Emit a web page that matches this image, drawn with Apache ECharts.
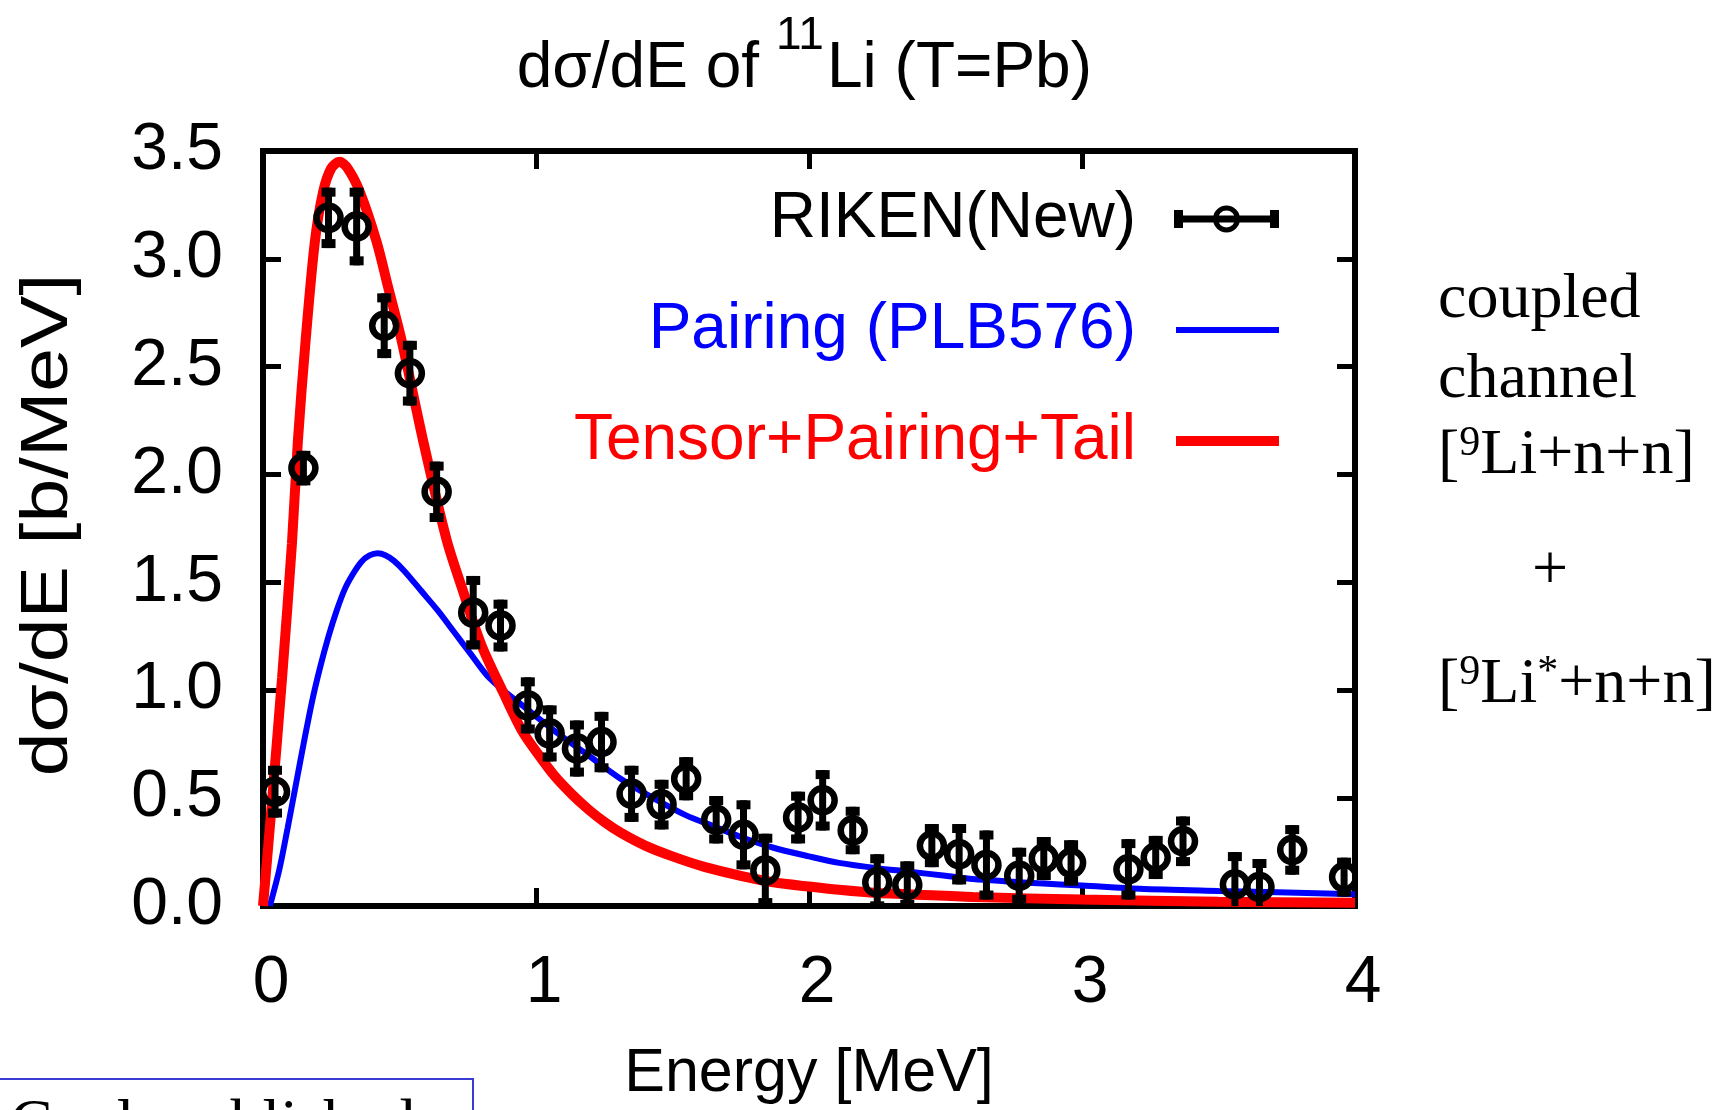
<!DOCTYPE html>
<html>
<head>
<meta charset="utf-8">
<title>dσ/dE of 11Li (T=Pb)</title>
<script src="https://cdn.jsdelivr.net/npm/echarts@6/dist/echarts.min.js"></script>
<style>
  html, body { margin: 0; padding: 0; background: #fff; }
  #main { width: 1717px; height: 1110px; }
</style>
</head>
<body>
<div id="main"></div>
<script>
// RIKEN(New) data: energy [MeV], dσ/dE [b/MeV], error
var energy = [0.044, 0.148, 0.24, 0.343, 0.444, 0.538, 0.636, 0.77, 0.87, 0.97, 1.05, 1.15, 1.24, 1.35,
              1.46, 1.55, 1.66, 1.76, 1.84, 1.96, 2.05, 2.16, 2.25, 2.36, 2.45, 2.55, 2.65, 2.77,
              2.86, 2.96, 3.17, 3.27, 3.37, 3.56, 3.65, 3.77, 3.96];
var xsec = [0.53, 2.03, 3.19, 3.15, 2.69, 2.47, 1.92, 1.36, 1.30, 0.93, 0.80, 0.73, 0.76, 0.52,
            0.47, 0.59, 0.40, 0.33, 0.165, 0.41, 0.49, 0.35, 0.11, 0.097, 0.28, 0.24, 0.19, 0.14,
            0.22, 0.20, 0.17, 0.225, 0.30, 0.10, 0.088, 0.26, 0.134];
var xsecErr = [0.12, 0.08, 0.14, 0.18, 0.15, 0.15, 0.14, 0.17, 0.12, 0.13, 0.13, 0.13, 0.14, 0.13,
               0.115, 0.10, 0.11, 0.16, 0.17, 0.12, 0.14, 0.11, 0.13, 0.11, 0.10, 0.14, 0.16, 0.13,
               0.10, 0.105, 0.14, 0.10, 0.115, 0.15, 0.13, 0.115, 0.09];

// Pairing (PLB576)
var pairE = [0.025, 0.06, 0.09, 0.12, 0.15, 0.18, 0.21, 0.24, 0.27, 0.30, 0.33, 0.36, 0.39, 0.42,
             0.45, 0.48, 0.52, 0.58, 0.64, 0.70, 0.76, 0.82, 0.88, 0.95, 1.07, 1.19, 1.31, 1.43,
             1.55, 1.65, 1.75, 1.87, 2.0, 2.11, 2.25, 2.36, 2.5, 2.6, 2.84, 3.0, 3.21, 3.5, 4.0];
var pairY = [0, 0.17, 0.36, 0.56, 0.76, 0.95, 1.11, 1.25, 1.37, 1.47, 1.54, 1.595, 1.625, 1.635,
             1.625, 1.60, 1.55, 1.46, 1.37, 1.27, 1.17, 1.07, 1.00, 0.93, 0.81, 0.70, 0.59, 0.50,
             0.42, 0.37, 0.32, 0.27, 0.23, 0.20, 0.175, 0.16, 0.14, 0.125, 0.105, 0.095, 0.08, 0.07, 0.055];

// Tensor+Pairing+Tail
var tensE = [0, 0.03, 0.07, 0.106, 0.128, 0.156, 0.19, 0.22, 0.25, 0.28, 0.31, 0.355, 0.416, 0.46,
             0.508, 0.586, 0.672, 0.73, 0.80, 0.88, 0.95, 1.01, 1.07, 1.13, 1.19, 1.25, 1.31, 1.40,
             1.50, 1.62, 1.75, 1.87, 2.0, 2.11, 2.25, 2.36, 2.6, 3.0, 3.5, 4.0];
var tensY = [0, 0.44, 1.06, 1.68, 2.16, 2.62, 3.08, 3.31, 3.42, 3.45, 3.42, 3.31, 3.08, 2.86,
             2.62, 2.16, 1.70, 1.47, 1.21, 0.99, 0.81, 0.70, 0.60, 0.52, 0.45, 0.39, 0.34, 0.28,
             0.23, 0.18, 0.14, 0.11, 0.09, 0.075, 0.06, 0.055, 0.042, 0.03, 0.02, 0.015];

var xTicks = [0, 1, 2, 3, 4];
var yTicks = [0, 0.5, 1.0, 1.5, 2.0, 2.5, 3.0, 3.5];

var sans = '"Liberation Sans", Arial, sans-serif';
var serif = '"Liberation Serif", "Times New Roman", serif';

var measure = document.createElement('canvas').getContext('2d');
function textW(str, size, fam) {
  measure.font = size + 'px ' + fam;
  return measure.measureText(str).width;
}
function txt(str, x, y, size, fam, color, align) {
  align = align || 'left';
  return {
    type: 'text', x: x, y: y, silent: true,
    style: {
      text: str, font: size + 'px ' + fam, fill: color || '#000',
      align: align, textAlign: align, verticalAlign: 'middle', textVerticalAlign: 'middle'
    }
  };
}
// one line of serif text with superscripts, left edge x, baseline b
function serifLine(parts, x, b) {
  var out = [];
  var big = 64, small = 42;
  for (var i = 0; i < parts.length; i++) {
    var sup = parts[i].sup;
    var size = sup ? small : big;
    var y = sup ? b - 32 : b - 20;
    out.push(txt(parts[i].t, x, y, size, serif));
    x += textW(parts[i].t, size, serif);
  }
  return out;
}

var expData = [];
for (var i = 0; i < energy.length; i++) expData.push([energy[i], xsec[i], xsecErr[i]]);
var pairData = [];
for (var i = 0; i < pairE.length; i++) pairData.push([pairE[i], pairY[i]]);
var tensData = [];
for (var i = 0; i < tensE.length; i++) tensData.push([tensE[i], tensY[i]]);

function renderErr(params, api) {
  var x = api.value(0), y = api.value(1), e = api.value(2);
  var c = api.coord([x, y]);
  var top = api.coord([x, y + e]);
  var bot = api.coord([x, y - e]);
  return {
    type: 'group',
    children: [
      { type: 'line', shape: { x1: c[0], y1: top[1], x2: c[0], y2: bot[1] },
        style: { stroke: '#000', lineWidth: 7 } },
      { type: 'rect', shape: { x: c[0] - 7, y: top[1], width: 14, height: 9 }, style: { fill: '#000' } },
      { type: 'rect', shape: { x: c[0] - 7, y: bot[1] - 9, width: 14, height: 9 }, style: { fill: '#000' } },
      { type: 'circle', shape: { cx: c[0], cy: c[1], r: 12 },
        style: { fill: 'none', stroke: '#000', lineWidth: 6.5 } }
    ]
  };
}

var rikenIcon = 'path://M0,0 M138,30 M33,11.5 H138 V18.5 H33 Z M33,6 H42 V24 H33 Z M129,6 H138 V24 H129 Z ' +
  'M72,15 A13.5,13.5 0 1 1 99,15 A13.5,13.5 0 1 1 72,15 Z M77,15 A8.5,8.5 0 1 0 94,15 A8.5,8.5 0 1 0 77,15 Z';
var blueIcon = 'path://M0,0 M138,30 M35,12 H138 V18 H35 Z';
var redIcon = 'path://M0,0 M138,30 M35,10 H138 V20 H35 Z';

var graphics = [
  txt('dσ/dE of', 759, 69, 64, sans, '#000', 'right'),
  txt('11', 776, 36, 46, sans),
  txt('Li (T=Pb)', 827, 69, 64, sans),
  txt('coupled', 1438, 300, 64, serif),
  txt('channel', 1438, 380, 64, serif),
  txt('+', 1550, 572, 64, serif, '#000', 'center'),
  { type: 'rect', shape: { x: -2, y: 1079, width: 475, height: 60 }, silent: true,
    style: { fill: 'none', stroke: '#3a3ad4', lineWidth: 2 } },
  txt('Coul. published', 10, 1126, 64, serif),
  // y axis title, stretched along its length like the source figure
  { type: 'text', x: 49, y: 525, rotation: Math.PI / 2, scaleX: 1.19, silent: true,
    style: { text: 'dσ/dE [b/MeV]', font: '66px ' + sans, fill: '#000',
      align: 'center', textAlign: 'center', verticalAlign: 'middle', textVerticalAlign: 'middle' } }
];
graphics = graphics.concat(serifLine([{ t: '[' }, { t: '9', sup: true }, { t: 'Li+n+n]' }], 1438, 476));
graphics = graphics.concat(serifLine([{ t: '[' }, { t: '9', sup: true }, { t: 'Li' }, { t: '*', sup: true }, { t: '+n+n]' }], 1438, 705));

var tickStyle = { inside: true, length: 18, lineStyle: { color: '#000', width: 5 } };
var noLine = { show: false, onZero: false };

var option = {
  animation: false,
  backgroundColor: '#fff',
  grid: { left: 263, right: 362, top: 151, bottom: 202, show: true, borderColor: '#000', borderWidth: 6 },
  legend: {
    orient: 'vertical', align: 'right', right: 438, top: 181, padding: 0,
    itemGap: 35, itemWidth: 138, itemHeight: 30, selectedMode: false,
    itemStyle: { borderWidth: 0 },
    textStyle: { fontFamily: sans, fontSize: 64, lineHeight: 76 },
    data: [
      { name: 'RIKEN(New)', icon: rikenIcon, textStyle: { color: '#000' } },
      { name: 'Pairing (PLB576)', icon: blueIcon, textStyle: { color: '#0000ff' } },
      { name: 'Tensor+Pairing+Tail', icon: redIcon, textStyle: { color: '#ff0000' } }
    ]
  },
  xAxis: [{
    type: 'value', min: xTicks[0], max: xTicks[xTicks.length - 1], interval: 1, position: 'bottom',
    axisLine: noLine, splitLine: { show: false }, axisTick: tickStyle,
    axisLabel: { margin: 45, fontSize: 66, fontFamily: sans, color: '#000', padding: [0, 0, 0, 16] },
    name: 'Energy [MeV]', nameLocation: 'middle', nameGap: 138,
    nameTextStyle: { fontSize: 61, fontFamily: sans, color: '#000' }
  }, {
    type: 'value', min: xTicks[0], max: xTicks[xTicks.length - 1], interval: 1, position: 'top',
    axisLine: noLine, splitLine: { show: false }, axisTick: tickStyle, axisLabel: { show: false }
  }],
  yAxis: [{
    type: 'value', min: yTicks[0], max: yTicks[yTicks.length - 1], interval: 0.5, position: 'left',
    axisLine: noLine, splitLine: { show: false }, axisTick: tickStyle,
    axisLabel: { margin: 40, fontSize: 66, fontFamily: sans, color: '#000',
      formatter: function (v) { return v.toFixed(1); } }
  }, {
    type: 'value', min: yTicks[0], max: yTicks[yTicks.length - 1], interval: 0.5, position: 'right',
    axisLine: noLine, splitLine: { show: false }, axisTick: tickStyle, axisLabel: { show: false }
  }],
  series: [{
    name: 'Pairing (PLB576)', type: 'line', data: pairData, symbol: 'none', smooth: 0.3,
    color: '#0000ff', itemStyle: { color: '#0000ff' }, lineStyle: { color: '#0000ff', width: 6 }, z: 2
  }, {
    name: 'Tensor+Pairing+Tail', type: 'line', data: tensData, symbol: 'none', smooth: 0.3,
    color: '#ff0000', itemStyle: { color: '#ff0000' }, lineStyle: { color: '#ff0000', width: 10 }, z: 3
  }, {
    name: 'RIKEN(New)', type: 'custom', renderItem: renderErr, data: expData,
    encode: { x: 0, y: 1 }, itemStyle: { color: '#000' }, clip: true, z: 4
  }],
  graphic: graphics
};

var myChart = echarts.init(document.getElementById('main'));
myChart.setOption(option);
</script>
</body>
</html>
